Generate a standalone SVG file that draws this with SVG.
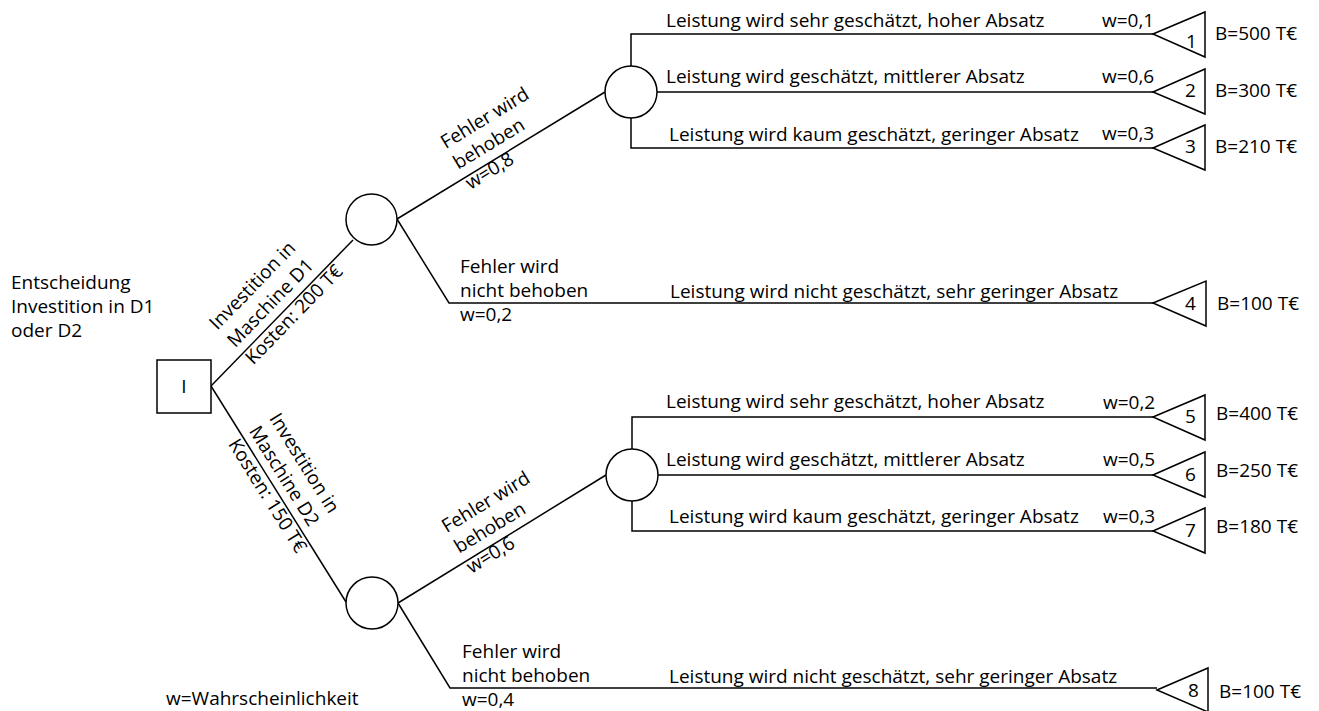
<svg xmlns="http://www.w3.org/2000/svg" width="1319" height="711" viewBox="0 0 1319 711">
<style>
text{font-family:"Open Sans","Noto Sans","DejaVu Sans",sans-serif;font-size:19px;fill:#000}
.ln{fill:none;stroke:#000;stroke-width:1.5}
.nd{fill:#fff;stroke:#000;stroke-width:1.5}
.m{text-anchor:middle}
</style>
<rect width="1319" height="711" fill="#fff"/>
<g id="connectors">
<polyline class="ln" points="211,386 353,240"/>
<polyline class="ln" points="211,386 346,602"/>
<polyline class="ln" points="397,219 605,92"/>
<polyline class="ln" points="397,219 449,303 1153,303"/>
<polyline class="ln" points="631,66 631,34 1153,34"/>
<polyline class="ln" points="657,92 1153,92"/>
<polyline class="ln" points="631,118 631,148 1153,148"/>
<polyline class="ln" points="398,603 606,475"/>
<polyline class="ln" points="398,603 450,688 1157,688"/>
<polyline class="ln" points="632,449 632,417 1153,417"/>
<polyline class="ln" points="658,475 1153,475"/>
<polyline class="ln" points="632,501 632,531 1153,531"/>
</g>
<g id="edge-labels">
<g transform="translate(211,386) rotate(-45.8)">
<text x="44" y="-34">Investition in</text>
<text x="44" y="-9">Maschine D1</text>
<text x="44" y="16">Kosten: 200 T€</text>
</g>
<g transform="translate(211,386) rotate(58)">
<text x="58" y="-32">Investition in</text>
<text x="58" y="-8">Maschine D2</text>
<text x="58" y="16.5">Kosten: 150 T€</text>
</g>
<g transform="translate(397,219) rotate(-31.4)">
<text x="78" y="-34">Fehler wird</text>
<text x="78" y="-10">behoben</text>
<text x="78" y="13.5">w=0,8</text>
</g>
<g transform="translate(398,603) rotate(-31.4)">
<text x="78" y="-34">Fehler wird</text>
<text x="78" y="-10">behoben</text>
<text x="78" y="13.5">w=0,6</text>
</g>
<text x="460" y="273">Fehler wird</text>
<text x="460" y="297">nicht behoben</text>
<text x="460" y="321">w=0,2</text>
<text x="462" y="658">Fehler wird</text>
<text x="462" y="682">nicht behoben</text>
<text x="462" y="706">w=0,4</text>
<text x="666" y="27">Leistung wird sehr geschätzt, hoher Absatz</text>
<text x="666" y="83">Leistung wird geschätzt, mittlerer Absatz</text>
<text x="669" y="141">Leistung wird kaum geschätzt, geringer Absatz</text>
<text x="670" y="298">Leistung wird nicht geschätzt, sehr geringer Absatz</text>
<text x="666" y="408">Leistung wird sehr geschätzt, hoher Absatz</text>
<text x="666" y="466">Leistung wird geschätzt, mittlerer Absatz</text>
<text x="669" y="523">Leistung wird kaum geschätzt, geringer Absatz</text>
<text x="669" y="683">Leistung wird nicht geschätzt, sehr geringer Absatz</text>
<text x="1102" y="27">w=0,1</text>
<text x="1102" y="83">w=0,6</text>
<text x="1102" y="140">w=0,3</text>
<text x="1103" y="409">w=0,2</text>
<text x="1103" y="466">w=0,5</text>
<text x="1103" y="523">w=0,3</text>
</g>
<g id="decision">
<rect class="nd" x="157" y="360" width="54" height="53"/>
<text class="m" x="184" y="393">I</text>
</g>
<g id="chance-d1"><circle class="nd" cx="371.5" cy="219.5" r="25.5"/></g>
<g id="chance-d2"><circle class="nd" cx="372" cy="603" r="26"/></g>
<g id="chance-d1-market"><circle class="nd" cx="631" cy="92" r="26"/></g>
<g id="chance-d2-market"><circle class="nd" cx="632" cy="475" r="26"/></g>
<g id="end-1"><polygon class="nd" points="1153,34 1205,12 1205,57"/><text x="1186" y="48">1</text><text x="1215" y="40">B=500 T€</text></g>
<g id="end-2"><polygon class="nd" points="1153,92 1205,69 1205,114"/><text x="1185" y="97">2</text><text x="1215" y="97">B=300 T€</text></g>
<g id="end-3"><polygon class="nd" points="1153,148 1205,125 1205,170"/><text x="1185" y="153">3</text><text x="1215" y="153">B=210 T€</text></g>
<g id="end-4"><polygon class="nd" points="1153,303 1206,281 1206,326"/><text x="1185" y="310">4</text><text x="1217" y="310">B=100 T€</text></g>
<g id="end-5"><polygon class="nd" points="1153,417 1205,395 1205,440"/><text x="1185" y="423">5</text><text x="1216" y="420">B=400 T€</text></g>
<g id="end-6"><polygon class="nd" points="1153,475 1205,452 1205,497"/><text x="1185" y="481">6</text><text x="1216" y="477">B=250 T€</text></g>
<g id="end-7"><polygon class="nd" points="1153,531 1205,508 1205,553"/><text x="1185" y="537">7</text><text x="1216" y="533">B=180 T€</text></g>
<g id="end-8"><polygon class="nd" points="1157,690 1208,668 1208,712"/><text x="1188" y="697">8</text><text x="1219" y="698">B=100 T€</text></g>
<g id="legend">
<text x="11" y="289">Entscheidung</text>
<text x="11" y="313">Investition in D1</text>
<text x="11" y="337">oder D2</text>
<text x="166" y="705">w=Wahrscheinlichkeit</text>
</g>
</svg>
